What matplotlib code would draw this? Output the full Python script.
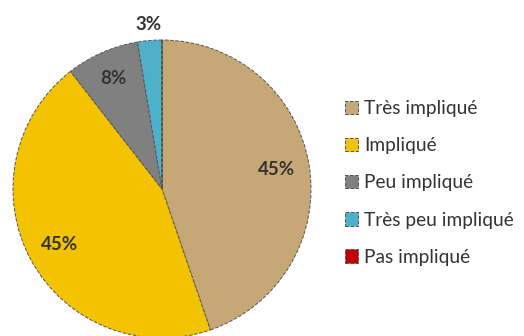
import numpy as np
import matplotlib
matplotlib.use('Agg')
import matplotlib.pyplot as plt

# niveaux d'implication et nombre de réponses
categories = ['Très impliqué', 'Impliqué', 'Peu impliqué', 'Très peu impliqué', 'Pas impliqué']
reponses = [17, 17, 3, 1, 0]
couleurs = ['#C6A877', '#F4C300', '#808080', '#4FB0CB', '#C00000']

plt.rcParams['font.family'] = ['Lato', 'DejaVu Sans']

fig = plt.figure(figsize=(5.24, 3.36), dpi=100)
ax = fig.add_axes([13 / 524, -2 / 336, 298 / 524, 298 / 336])

wedges, _ = ax.pie(reponses, colors=couleurs, startangle=90, counterclock=False,
                   radius=1.0,
                   wedgeprops=dict(edgecolor='#555555', linewidth=0.7, linestyle='--'))
ax.set_xlim(-1, 1)
ax.set_ylim(-1, 1)
ax.set_aspect('equal')

total = sum(reponses)
for w, n in zip(wedges, reponses):
    if n == 0:
        continue
    pct = n / total * 100
    ang = np.deg2rad((w.theta1 + w.theta2) / 2)
    if pct < 5:
        r = 1.11
    elif pct < 10:
        r = 0.81
    else:
        r = 0.78
    ax.text(r * np.cos(ang), r * np.sin(ang), f'{pct:.0f}%', ha='center', va='center',
            fontsize=13.5, fontweight='bold', color='#333333')

fig.legend(wedges, categories, loc='center left', bbox_to_anchor=(345 / 524, 1 - 183 / 336),
           frameon=False, fontsize=13.8, handlelength=0.7, handleheight=0.7,
           handletextpad=0.3, labelspacing=1.05, labelcolor='#333333',
           borderaxespad=0, borderpad=0)

fig.savefig('out.png', dpi=100)
